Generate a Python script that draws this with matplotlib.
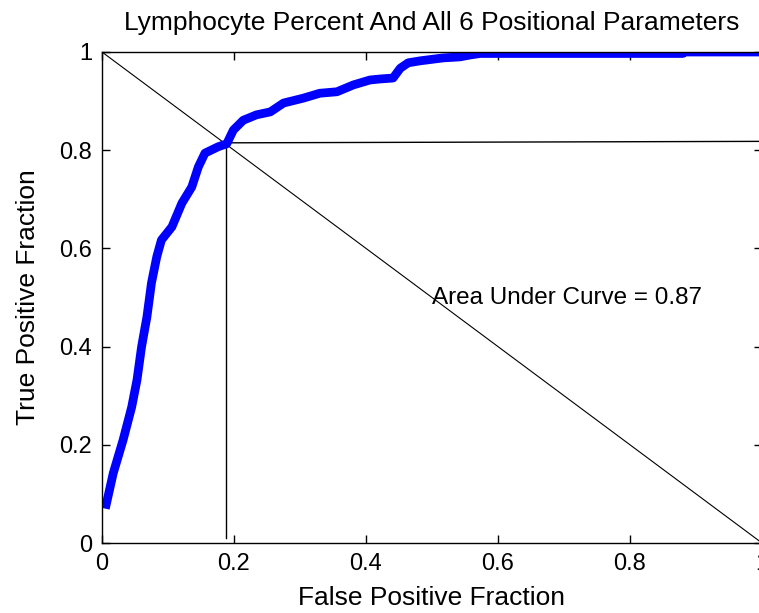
import matplotlib
matplotlib.use("Agg")
import matplotlib.pyplot as plt

fpr = [0.005, 0.017, 0.032, 0.045, 0.053, 0.060, 0.068, 0.075, 0.083, 0.090,
       0.106, 0.121, 0.136, 0.146, 0.156, 0.176, 0.189, 0.199, 0.214, 0.234,
       0.255, 0.275, 0.305, 0.330, 0.356, 0.381, 0.406, 0.421, 0.441, 0.452,
       0.464, 0.482, 0.517, 0.542, 0.558, 0.573, 0.70, 0.88, 0.88, 1.0]
tpr = [0.07, 0.142, 0.21, 0.277, 0.332, 0.40, 0.46, 0.53, 0.583, 0.617,
       0.644, 0.692, 0.725, 0.766, 0.794, 0.807, 0.813, 0.841, 0.861, 0.872,
       0.878, 0.896, 0.906, 0.916, 0.919, 0.933, 0.943, 0.945, 0.947, 0.967,
       0.978, 0.982, 0.988, 0.990, 0.994, 0.997, 0.997, 0.997, 1.0, 1.0]

chance_x = [0, 1]
chance_y = [1, 0]
op_x = 0.188
op_y = 0.815
op_y_right = 0.818
auc = 0.87

title = "Lymphocyte Percent And All 6 Positional Parameters"
xlabel = "False Positive Fraction"
ylabel = "True Positive Fraction"
ticks = [0, 0.2, 0.4, 0.6, 0.8, 1]
ticklabels = ["0", "0.2", "0.4", "0.6", "0.8", "1"]

plt.rcParams['font.family'] = ['Liberation Sans', 'DejaVu Sans']
W, H = 759, 613
fig = plt.figure(figsize=(W / 100, H / 100), dpi=100)
ax = fig.add_axes([102 / W, (H - 543) / H, 660 / W, 491 / H])

ax.plot(chance_x, chance_y, color='black', lw=0.8)
ax.plot([op_x, op_x], [0.01, op_y], color='black', lw=1.0)
ax.plot([op_x, 1], [op_y, op_y_right], color='black', lw=1.0)
ax.plot(fpr, tpr, color='#0000ff', lw=6.3, solid_capstyle='butt', solid_joinstyle='round')
ax.text(0.5, 0.5, f"Area Under Curve = {auc}", fontsize=17.5, ha='left', va='center')

ax.set_xlim(0, 1)
ax.set_ylim(0, 1)
ax.set_xticks(ticks)
ax.set_xticklabels(ticklabels)
ax.set_yticks(ticks)
ax.set_yticklabels(ticklabels)
ax.tick_params(direction='in', length=6, width=1, top=True, right=True,
               labelsize=17, pad=7)
for s in ax.spines.values():
    s.set_linewidth(1.0)
ax.set_title(title, fontsize=19, pad=16)
ax.set_xlabel(xlabel, fontsize=19, labelpad=8)
ax.set_ylabel(ylabel, fontsize=19, labelpad=14)

fig.savefig("out.png", dpi=100)
